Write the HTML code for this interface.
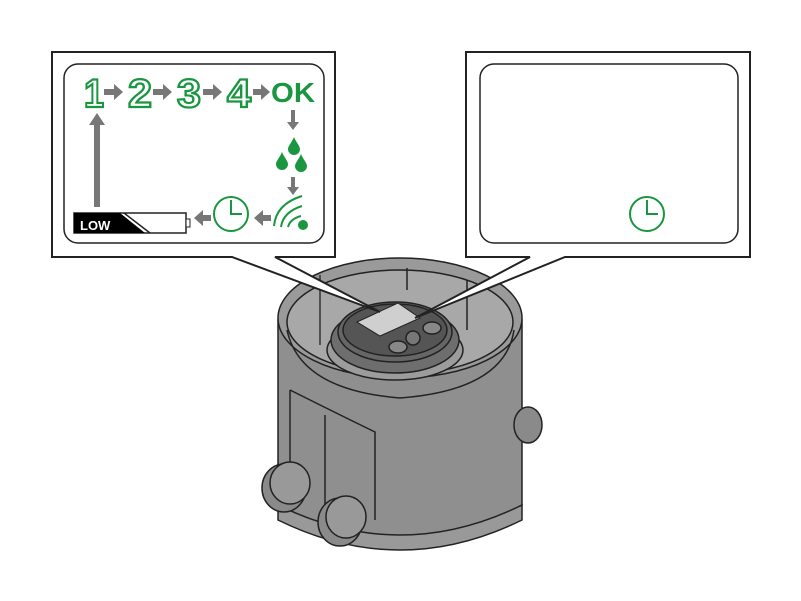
<!DOCTYPE html>
<html><head><style>body{margin:0;background:#fff}svg{display:block}</style></head><body>
<svg width="801" height="601" viewBox="0 0 801 601" xmlns="http://www.w3.org/2000/svg" font-family="Liberation Sans, sans-serif">
<!-- device -->
<g stroke="#222" stroke-width="1.5">
<path d="M278 320 L278 505 Q400 570 522 505 L522 320 Z" fill="#8f8f8f"/>
<path d="M278 505 Q400 565 522 505 L522 520 Q400 580 278 520Z" fill="#999"/>
<ellipse cx="400" cy="318" rx="122" ry="60" fill="#9a9a9a"/>
<ellipse cx="400" cy="322" rx="113" ry="52" fill="#a8a8a8"/>
<path d="M287 330 Q300 390 400 398 Q505 390 514 330" fill="none"/>
<ellipse cx="395" cy="350" rx="68" ry="30" fill="#9c9c9c"/>
<ellipse cx="395" cy="340" rx="64" ry="33" fill="#6e6e6e"/>
<ellipse cx="395" cy="332" rx="57" ry="30" fill="#666"/>
<ellipse cx="395" cy="330" rx="52" ry="26" fill="#555"/>
<path d="M357 322 L398 303 L420 318 L380 336 Z" fill="#cfcfcf" stroke-width="1"/>
<circle cx="413" cy="338" r="7" fill="#777"/>
<ellipse cx="398" cy="347" rx="9" ry="6" fill="#888"/>
<ellipse cx="432" cy="328" rx="9" ry="6" fill="#888"/>
<line x1="290" y1="390" x2="290" y2="500"/>
<line x1="325" y1="415" x2="325" y2="525"/>
<path d="M290 390 Q340 415 375 432 L375 520" fill="none"/>
<line x1="320" y1="275" x2="320" y2="345" stroke="#333"/>
<line x1="407" y1="268" x2="407" y2="290"/>
<line x1="467" y1="280" x2="467" y2="330"/>
<g fill="#8a8a8a">
<ellipse cx="528" cy="425" rx="14" ry="18"/>
<ellipse cx="284" cy="488" rx="22" ry="24"/>
<ellipse cx="290" cy="483" rx="20" ry="21" fill="#999"/>
<ellipse cx="340" cy="522" rx="22" ry="24"/>
<ellipse cx="346" cy="517" rx="20" ry="21" fill="#999"/>
</g>
</g>
<!-- left callout -->
<path d="M52 52 H335 V257 H275 L380 312 L232 257 H52 Z" fill="#fff" stroke="#222" stroke-width="2"/>
<rect x="64" y="64" width="260" height="179" rx="14" fill="#fff" stroke="#222" stroke-width="1.5"/>
<!-- right callout -->
<path d="M466 52 H750 V257 H565 L415 318 L530 257 H466 Z" fill="#fff" stroke="#222" stroke-width="2"/>
<rect x="480" y="64" width="258" height="179" rx="14" fill="#fff" stroke="#222" stroke-width="1.5"/>
<circle cx="647" cy="214" r="17" fill="none" stroke="#1a9640" stroke-width="2"/>
<path d="M647 200 V214 H658" fill="none" stroke="#1a9640" stroke-width="2"/>
<!-- left content -->
<g font-size="40" font-weight="bold" fill="#fff" stroke="#1a9640" stroke-width="2.2">
<text x="84" y="107" textLength="20" lengthAdjust="spacingAndGlyphs">1</text>
<text x="128" y="107" textLength="24" lengthAdjust="spacingAndGlyphs">2</text>
<text x="177" y="107" textLength="24" lengthAdjust="spacingAndGlyphs">3</text>
<text x="227" y="107" textLength="24" lengthAdjust="spacingAndGlyphs">4</text>
</g>
<text x="271" y="102" font-size="28" font-weight="bold" fill="#1a9640" textLength="44" lengthAdjust="spacingAndGlyphs">OK</text>
<g fill="#777">
<path d="M104 89 h10 v-5 l9 8 -9 8 v-5 h-10z"/><path d="M153 89 h10 v-5 l9 8 -9 8 v-5 h-10z"/>
<path d="M203 89 h10 v-5 l9 8 -9 8 v-5 h-10z"/><path d="M253 89 h8 v-5 l9 8 -9 8 v-5 h-8z"/>
<path d="M291 110 h4 v12 h4 l-6 8 -6 -8 h4z"/><path d="M291 177 h4 v10 h4 l-6 8 -6 -8 h4z"/>
<path d="M94 207 V125 h-5 l8 -12 8 12 h-5 V207z"/>
<path d="M271 215 h-8 v-5 l-9 8 9 8 v-5 h8z"/><path d="M211 215 h-8 v-5 l-9 8 9 8 v-5 h8z"/>
</g>
<g fill="#1a9640">
<path d="M0,-9 C-2,-4 -6,0 -6,3 A6,6 0 0 0 6,3 C6,0 2,-4 0,-9Z" transform="translate(294,146)"/>
<path d="M0,-9 C-2,-4 -6,0 -6,3 A6,6 0 0 0 6,3 C6,0 2,-4 0,-9Z" transform="translate(282,161)"/>
<path d="M0,-9 C-2,-4 -6,0 -6,3 A6,6 0 0 0 6,3 C6,0 2,-4 0,-9Z" transform="translate(301,163)"/>
<circle cx="303" cy="225" r="5"/>
</g>
<g fill="none" stroke="#1a9640" stroke-width="2">
<path d="M274 226 q2 -22 28 -30"/><path d="M281 227 q2 -15 21 -21"/><path d="M288 227 q2 -8 13 -11"/>
<circle cx="231" cy="214" r="17"/><path d="M231 200 V214 H242"/>
</g>
<rect x="74" y="213" width="112" height="20" fill="#fff" stroke="#222" stroke-width="1.5"/>
<rect x="186" y="219" width="4" height="8" fill="#fff" stroke="#222"/>
<path d="M74 213 H120 L145 233 H74Z" fill="#000"/>
<path d="M124 213 L150 233" stroke="#222" stroke-width="1.5"/>
<text x="80" y="230" font-size="13" font-weight="bold" fill="#fff">LOW</text>
</svg>
</body></html>
